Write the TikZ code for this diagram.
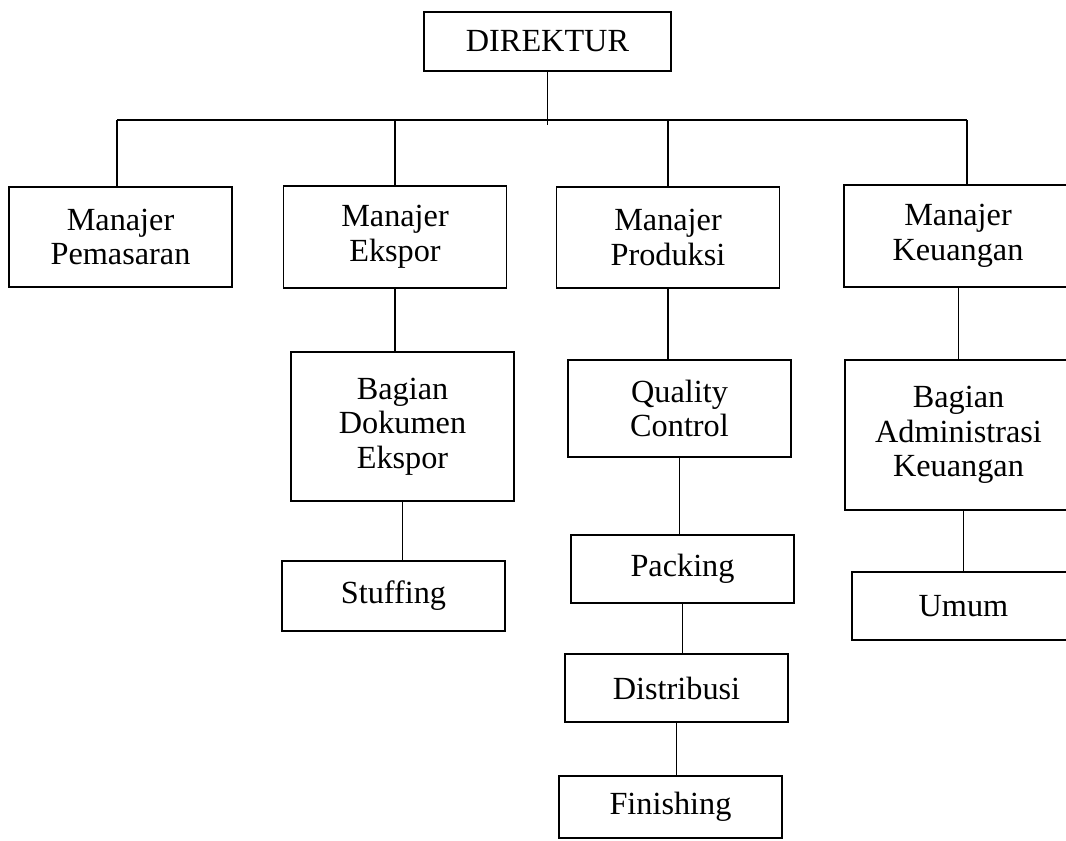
\documentclass[tikz,border=0pt]{standalone}
\usepackage{fontspec}
\setmainfont{Liberation Serif}
\usetikzlibrary{positioning, calc}

\begin{document}
\begin{tikzpicture}[
    x=0.75pt, y=-0.75pt,
    font=\fontsize{24.2}{26}\selectfont,
    unit/.style ={draw=black, line width=1.3pt, align=center, inner sep=0pt,
                  minimum width=167.25pt},
    link/.style ={draw=black, line width=1.3pt},
  ]
  \useasboundingbox (0,0) rectangle (1066,840);
  \clip (0,0) rectangle (1066,840);

  % top
  \node[unit, minimum width=185.25pt, minimum height=44.25pt] (dir) at (547.5,41.5) {DIREKTUR};

  % managers
  \node[unit, minimum height=75pt]    (pem)  at (120.5,237) {Manajer\\Pemasaran};
  \node[unit, minimum height=76.5pt]  (eks)  at (395,237)   {Manajer\\Ekspor};
  \node[unit, minimum height=75.75pt] (prod) at (668,237.5) {Manajer\\Produksi};
  \node[unit, minimum height=76.5pt, minimum width=171pt] (keu) at (958,236) {Manajer\\Keuangan};

  % sections
  \node[unit, minimum height=111.75pt] (dok)   at (402.5,426.5) {Bagian\\Dokumen\\Ekspor};
  \node[unit, minimum height=52.5pt]   (stuff) at (393.5,596)   {Stuffing};
  \node[unit, minimum height=72.75pt]  (qc)    at (679.5,408.5) {Quality\\Control};
  \node[unit, minimum height=51pt]     (pack)  at (682.5,569)   {Packing};
  \node[unit, minimum height=51pt]     (dist)  at (676.5,688)   {Distribusi};
  \node[unit, minimum height=46.5pt]   (fin)   at (670.5,807)   {Finishing};
  \node[unit, minimum height=112.5pt, minimum width=170.25pt] (adm) at (958.5,435) {Bagian\\Administrasi\\Keuangan};
  \node[unit, minimum height=51pt]     (umum)  at (963.5,606)   {Umum};

  % bus under the director
  \coordinate (busL) at (117,120);
  \coordinate (busR) at (967,120);
  \draw[link] (busL) -- (busR);
  \draw[link] (dir.south) -- (dir.south |- busL) -- ++(0,5);
  \draw[link] (busL) -- (busL |- pem.north);
  \draw[link] (eks.north |- busL) -- (eks.north);
  \draw[link] (prod.north |- busL) -- (prod.north);
  \draw[link] (busR) -- (busR |- keu.north);

  % branches
  \draw[link] (eks.south) -- (eks.south |- dok.north);
  \draw[link] (dok.south) -- (dok.south |- stuff.north);
  \draw[link] (prod.south) -- (prod.south |- qc.north);
  \draw[link] (qc.south) -- (qc.south |- pack.north);
  \draw[link] (pack.south) -- (pack.south |- dist.north);
  \draw[link] (dist.south) -- (dist.south |- fin.north);
  \draw[link] (adm.north) -- (adm.north |- keu.south);
  \draw[link] (umum.north) -- (umum.north |- adm.south);
\end{tikzpicture}
\end{document}
